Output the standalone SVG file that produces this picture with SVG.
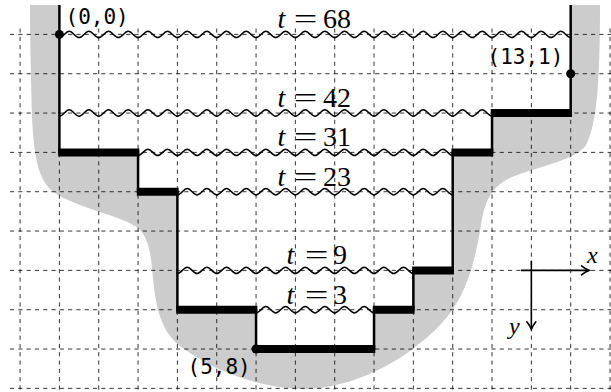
<svg xmlns="http://www.w3.org/2000/svg" xmlns:xlink="http://www.w3.org/1999/xlink" width="611" height="392" viewBox="0 0 611 392">
<style>
.grid{fill:none;stroke:#000;stroke-width:0.8;stroke-dasharray:4.15 4.15}
.wave{fill:none;stroke:#000;stroke-width:1.5;stroke-linecap:round}
.thin{fill:none;stroke:#000;stroke-width:2.5;stroke-linejoin:miter}
.thick{fill:none;stroke:#000;stroke-width:8;stroke-linecap:butt}
.lbl{font-family:"Liberation Serif","Times New Roman",serif;font-size:28px;fill:#000}
.it{font-style:italic}
.mono{font-family:"DejaVu Sans Mono","Liberation Mono",monospace;font-size:21px;fill:#000}
.ax{fill:none;stroke:#000;stroke-width:1.6}
</style>
<defs>
<path id="wc" d="M0,3.2 c3.58,0 6.25,-6.4 9.83,-6.4 s6.25,6.4 9.83,6.4 s6.25,-6.4 9.83,-6.4 s6.25,6.4 9.83,6.4"/>
<marker id="arr" viewBox="-10 -6 12 12" refX="0" refY="0" markerWidth="12" markerHeight="12" markerUnits="userSpaceOnUse" orient="auto">
<path d="M-7.5,-4.5 Q-3,-1 0,0 Q-3,1 -7.5,4.5" fill="none" stroke="#000" stroke-width="1.6" stroke-linecap="round"/>
</marker>
</defs>
<rect width="611" height="392" fill="#fff"/>
<g id="region">
<path fill="#cccccc" d="M30,5 H59.4 V152.39 H138.06 V191.72 H177.39 V309.71 H256.05 V349.04 H374.04 V309.71 H413.37 V270.38 H452.7 V152.39 H492.03 V113.06 H570.69 V5 H600 C600,80 597,125 586,145 C576,160 540,166 512,177 C492,186 485,200 481,225 C475,262 466,298 441,324 C405,362 350,390 300,389 C255,388 207,367 180,346 C158,329 155,300 152,268 C150,246 146,233 135,226 C115,214 78,208 55,193 C39,182 34,160 32,117 C31,80 30,40 30,5 Z"/>
</g>
<g id="grid">
<path class="grid" d="M20.07,28.5V392 M59.4,28.5V392 M98.73,28.5V392 M138.06,28.5V392 M177.39,28.5V392 M216.72,28.5V392 M256.05,28.5V392 M295.38,28.5V392 M334.71,28.5V392 M374.04,28.5V392 M413.37,28.5V392 M452.7,28.5V392 M492.03,28.5V392 M531.36,28.5V392 M570.69,28.5V392 M610.02,28.5V392 M10,34.4H611 M10,73.73H611 M10,113.06H611 M10,152.39H611 M10,191.72H611 M10,231.05H611 M10,270.38H611 M10,309.71H611 M10,349.04H611 M10,388.37H611"/>
</g>
<g id="connectors">
<g id="wave-68" class="wave">
<use xlink:href="#wc" x="59.4" y="34.4"/><use xlink:href="#wc" x="98.73" y="34.4"/><use xlink:href="#wc" x="138.06" y="34.4"/><use xlink:href="#wc" x="177.39" y="34.4"/><use xlink:href="#wc" x="216.72" y="34.4"/><use xlink:href="#wc" x="256.05" y="34.4"/><use xlink:href="#wc" x="295.38" y="34.4"/><use xlink:href="#wc" x="334.71" y="34.4"/><use xlink:href="#wc" x="374.04" y="34.4"/><use xlink:href="#wc" x="413.37" y="34.4"/><use xlink:href="#wc" x="452.7" y="34.4"/><use xlink:href="#wc" x="492.03" y="34.4"/><use xlink:href="#wc" x="531.36" y="34.4"/>
</g>
<g id="wave-42" class="wave">
<use xlink:href="#wc" x="59.4" y="113.06"/><use xlink:href="#wc" x="98.73" y="113.06"/><use xlink:href="#wc" x="138.06" y="113.06"/><use xlink:href="#wc" x="177.39" y="113.06"/><use xlink:href="#wc" x="216.72" y="113.06"/><use xlink:href="#wc" x="256.05" y="113.06"/><use xlink:href="#wc" x="295.38" y="113.06"/><use xlink:href="#wc" x="334.71" y="113.06"/><use xlink:href="#wc" x="374.04" y="113.06"/><use xlink:href="#wc" x="413.37" y="113.06"/><use xlink:href="#wc" x="452.7" y="113.06"/>
</g>
<g id="wave-31" class="wave">
<use xlink:href="#wc" x="138.06" y="152.39"/><use xlink:href="#wc" x="177.39" y="152.39"/><use xlink:href="#wc" x="216.72" y="152.39"/><use xlink:href="#wc" x="256.05" y="152.39"/><use xlink:href="#wc" x="295.38" y="152.39"/><use xlink:href="#wc" x="334.71" y="152.39"/><use xlink:href="#wc" x="374.04" y="152.39"/><use xlink:href="#wc" x="413.37" y="152.39"/>
</g>
<g id="wave-23" class="wave">
<use xlink:href="#wc" x="177.39" y="191.72"/><use xlink:href="#wc" x="216.72" y="191.72"/><use xlink:href="#wc" x="256.05" y="191.72"/><use xlink:href="#wc" x="295.38" y="191.72"/><use xlink:href="#wc" x="334.71" y="191.72"/><use xlink:href="#wc" x="374.04" y="191.72"/><use xlink:href="#wc" x="413.37" y="191.72"/>
</g>
<g id="wave-9" class="wave">
<use xlink:href="#wc" x="177.39" y="270.38"/><use xlink:href="#wc" x="216.72" y="270.38"/><use xlink:href="#wc" x="256.05" y="270.38"/><use xlink:href="#wc" x="295.38" y="270.38"/><use xlink:href="#wc" x="334.71" y="270.38"/><use xlink:href="#wc" x="374.04" y="270.38"/>
</g>
<g id="wave-3" class="wave">
<use xlink:href="#wc" x="256.05" y="309.71"/><use xlink:href="#wc" x="295.38" y="309.71"/><use xlink:href="#wc" x="334.71" y="309.71"/>
</g>
</g>
<g id="staircase">
<path class="thin" d="M59.4,5 V152.39 H138.06 V191.72 H177.39 V309.71 H256.05 V349.04 H374.04 V309.71 H413.37 V270.38 H452.7 V152.39 H492.03 V113.06 H570.69 V5"/>
<path class="thick" d="M58.15,152.39 H139.31 M136.81,191.72 H178.64 M176.14,309.71 H257.3 M254.8,349.04 H375.29 M372.79,309.71 H414.62 M412.12,270.38 H453.95 M451.45,152.39 H493.28 M490.78,113.06 H571.94"/>
</g>
<g id="point-0-0">
<circle cx="59.4" cy="34.4" r="4.5"/>
<text class="mono" x="65.5" y="23.5">(0,0)</text>
</g>
<g id="point-13-1">
<circle cx="570.69" cy="73.73" r="4.5"/>
<text class="mono" x="487.5" y="63.5">(13,1)</text>
</g>
<g id="point-5-8">
<circle cx="256.05" cy="349.04" r="4.5"/>
<text class="mono" x="187.5" y="374">(5,8)</text>
</g>
<g id="label-68">
<text class="lbl it" x="277.5" y="28.4">t</text>
<text class="lbl" text-anchor="middle" transform="translate(305.7,28.4) scale(1.5,1)">=</text>
<text class="lbl" x="323" y="28.4">68</text>
</g>
<g id="label-42">
<text class="lbl it" x="277.5" y="107.1">t</text>
<text class="lbl" text-anchor="middle" transform="translate(305.7,107.1) scale(1.5,1)">=</text>
<text class="lbl" x="323" y="107.1">42</text>
</g>
<g id="label-31">
<text class="lbl it" x="277.5" y="146.4">t</text>
<text class="lbl" text-anchor="middle" transform="translate(305.7,146.4) scale(1.5,1)">=</text>
<text class="lbl" x="323" y="146.4">31</text>
</g>
<g id="label-23">
<text class="lbl it" x="277.5" y="185.7">t</text>
<text class="lbl" text-anchor="middle" transform="translate(305.7,185.7) scale(1.5,1)">=</text>
<text class="lbl" x="323" y="185.7">23</text>
</g>
<g id="label-9">
<text class="lbl it" x="286.5" y="264.4">t</text>
<text class="lbl" text-anchor="middle" transform="translate(316.5,264.4) scale(1.5,1)">=</text>
<text class="lbl" x="333" y="264.4">9</text>
</g>
<g id="label-3">
<text class="lbl it" x="286.5" y="303.7">t</text>
<text class="lbl" text-anchor="middle" transform="translate(316.5,303.7) scale(1.5,1)">=</text>
<text class="lbl" x="333" y="303.7">3</text>
</g>
<g id="axes">
<path class="ax" d="M521,270.38 H589" marker-end="url(#arr)"/>
<path class="ax" d="M531.36,260.7 V329.3" marker-end="url(#arr)"/>
<text class="lbl it" style="font-size:24px" x="587" y="263">x</text>
<text class="lbl it" style="font-size:24px" x="509" y="333.5">y</text>
</g>
</svg>
